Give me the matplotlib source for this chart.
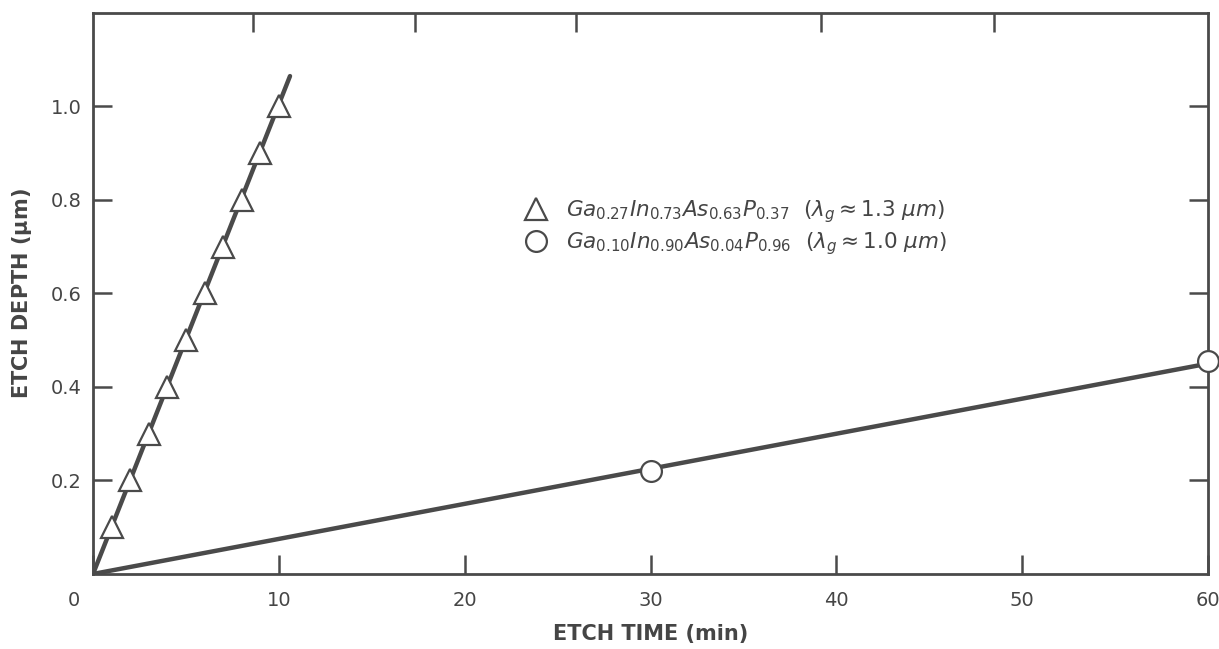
import numpy as np
import matplotlib.pyplot as plt
from matplotlib.transforms import ScaledTranslation

# data
t_tri = [1, 2, 3, 4, 5, 6, 7, 8, 9, 10]
d_tri = [0.1, 0.2, 0.3, 0.4, 0.5, 0.6, 0.7, 0.8, 0.9, 1.0]
fit_tri_t = [0, 10.6]
fit_tri_d = [0, 1.065]

t_circ = [30, 60]
d_circ = [0.22, 0.455]
fit_circ_t = [0, 60]
fit_circ_d = [0, 0.45]

x_ticks = [0, 10, 20, 30, 40, 50, 60]
y_ticks = [0.2, 0.4, 0.6, 0.8, 1.0]
top_ticks = [8.6, 17.3, 26.0, 39.2, 48.5]

lab_tri = r'$\mathit{Ga_{0.27}In_{0.73}As_{0.63}P_{0.37}\ \ (\lambda_g \approx 1.3\ \mu m)}$'
lab_circ = r'$\mathit{Ga_{0.10}In_{0.90}As_{0.04}P_{0.96}\ \ (\lambda_g \approx 1.0\ \mu m)}$'

INK = "#4a4a4a"
TXT = "#454545"

plt.rcParams['mathtext.fontset'] = 'dejavusans'

fig = plt.figure(figsize=(12.19, 6.49), dpi=100)
ax = fig.add_axes([0.0763, 0.1156, 0.9147, 0.8644])

ax.plot(fit_tri_t, fit_tri_d, color=INK, lw=3.2, solid_capstyle='round')
ax.plot(fit_circ_t, fit_circ_d, color=INK, lw=3.2, solid_capstyle='round')
ax.plot(t_tri, d_tri, ls='none', marker='^', ms=16, mfc='white', mec=INK,
        mew=1.6, label=lab_tri)
ax.plot(t_circ, d_circ, ls='none', marker='o', ms=15, mfc='white', mec=INK,
        mew=1.6, label=lab_circ, clip_on=False, zorder=5)

ax.set_xlim(0, 60)
ax.set_ylim(0, 1.2)
ax.set_xticks(x_ticks)
ax.set_yticks(y_ticks)
ax.set_yticklabels([f"{v:.1f}" for v in y_ticks])

for s in ax.spines.values():
    s.set_color(INK)
    s.set_linewidth(2)

ax.tick_params(axis='both', direction='in', length=14, width=1.8, color=INK,
               labelsize=14, labelcolor=TXT)
ax.tick_params(axis='x', pad=12)
ax.tick_params(axis='y', right=True, pad=8)

# the "0" label sits left of the corner in the original
lbl0 = ax.xaxis.get_major_ticks()[0].label1
lbl0.set_transform(lbl0.get_transform() +
                   ScaledTranslation(-14 / 72, 0, fig.dpi_scale_trans))

top = ax.secondary_xaxis('top')
top.set_xticks(top_ticks)
top.tick_params(direction='in', length=14, width=1.8, color=INK, labeltop=False)
top.spines['top'].set_visible(False)

ax.set_xlabel("ETCH TIME (min)", fontsize=15, fontweight='bold', color=TXT,
              labelpad=10)
ax.set_ylabel(r"ETCH DEPTH ($\mathbf{\mu}$m)", fontsize=15, fontweight='bold',
              color=TXT, labelpad=12)

ax.legend(loc='upper left', bbox_to_anchor=(0.37, 0.685), frameon=False,
          fontsize=15.5, labelcolor=TXT, handletextpad=0.4, labelspacing=0.25,
          borderaxespad=0)

fig.savefig("out.png", dpi=100)
